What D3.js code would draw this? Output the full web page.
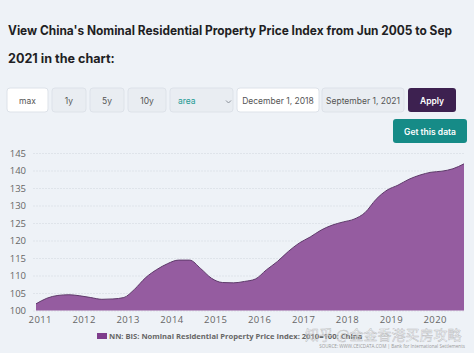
<!DOCTYPE html>
<html>
<head>
<meta charset="utf-8">
<script src="https://cdn.jsdelivr.net/npm/d3@7"></script>
<style>
  body { margin: 0; background: #eef2f7; }
  svg { display: block; font-family: Inter, "Open Sans", sans-serif; }
</style>
</head>
<body>
<svg id="chart" width="474" height="353"></svg>
<script>
// quarterly index, 2010=100
var quarters = ["2010-12-01","2011-03-01","2011-06-01","2011-09-01","2011-12-01","2012-03-01","2012-06-01","2012-09-01",
    "2012-12-01","2013-03-01","2013-06-01","2013-09-01","2013-12-01","2014-03-01","2014-06-01","2014-09-01",
    "2014-12-01","2015-03-01","2015-06-01","2015-09-01","2015-12-01","2016-03-01","2016-06-01","2016-09-01",
    "2016-12-01","2017-03-01","2017-06-01","2017-09-01","2017-12-01","2018-03-01","2018-06-01","2018-09-01",
    "2018-12-01","2019-03-01","2019-06-01","2019-09-01","2019-12-01","2020-03-01","2020-06-01","2020-09-01"];
var values = [101.9, 103.5, 104.3, 104.5, 104.2, 103.7, 103.2, 103.3,
    103.7, 106.1, 109.4, 111.7, 113.4, 114.4, 114.4, 112.0,
    109.2, 108.0, 107.9, 108.3, 109.0, 111.6, 114.0, 116.9,
    119.3, 121.0, 123.0, 124.4, 125.3, 126.1, 128.0, 131.8,
    134.4, 135.8, 137.5, 138.7, 139.5, 139.8, 140.5, 141.9];
var yTicks = [100, 105, 110, 115, 120, 125, 130, 135, 140, 145];
var xTicks = [2011, 2012, 2013, 2014, 2015, 2016, 2017, 2018, 2019, 2020];
var buttons = ["max", "1y", "5y", "10y"];
var dates = ["December 1, 2018", "September 1, 2021"];
var seriesName = "NN: BIS: Nominal Residential Property Price Index: 2010=100: China";

var parse = d3.timeParse("%Y-%m-%d");
var data = quarters.map(function(q, i) { return { date: parse(q), value: values[i] }; });

var svg = d3.select("#chart");

// title
var title = svg.append("g")
    .attr("font-weight", 700)
    .attr("font-size", 12.6)
    .attr("fill", "#1f1f24");
title.append("text").attr("x", 8).attr("y", 35)
    .attr("textLength", 444).attr("lengthAdjust", "spacingAndGlyphs")
    .text("View China's Nominal Residential Property Price Index from Jun 2005 to Sep");
title.append("text").attr("x", 8).attr("y", 63).text("2021 in the chart:");

// control row
var btnX = [7, 52, 90, 128];
var btnW = [41, 34, 34, 38];
buttons.forEach(function(b, i) {
    svg.append("rect")
        .attr("x", btnX[i]).attr("y", 88).attr("width", btnW[i]).attr("height", 24).attr("rx", 3)
        .attr("fill", i === 0 ? "#ffffff" : "#e9edf2")
        .attr("stroke", "#dde2e9");
    svg.append("text")
        .attr("x", btnX[i] + btnW[i] / 2).attr("y", 103.5)
        .attr("text-anchor", "middle").attr("font-size", 8.5).attr("fill", "#555")
        .text(b);
});
svg.append("rect").attr("x", 170).attr("y", 88).attr("width", 63).attr("height", 24).attr("rx", 3)
    .attr("fill", "#e9edf2").attr("stroke", "#dde2e9");
svg.append("text").attr("x", 178).attr("y", 103.5).attr("font-size", 8.5).attr("fill", "#1b9a94").text("area");
svg.append("path").attr("d", "M226,100.5 l2.5,2.5 l2.5,-2.5").attr("fill", "none").attr("stroke", "#8a9099");
var dateX = [237, 322], dateW = [82, 82];
dates.forEach(function(d, i) {
    svg.append("rect").attr("x", dateX[i]).attr("y", 88).attr("width", dateW[i]).attr("height", 24).attr("rx", 3)
        .attr("fill", i === 0 ? "#ffffff" : "#e9edf2").attr("stroke", "#dde2e9");
    svg.append("text").attr("x", dateX[i] + dateW[i] / 2).attr("y", 103.5)
        .attr("text-anchor", "middle").attr("font-size", 8.5).attr("fill", "#555").text(d);
});
svg.append("rect").attr("x", 408).attr("y", 88).attr("width", 48).attr("height", 24).attr("rx", 3).attr("fill", "#3d2150");
svg.append("text").attr("x", 432).attr("y", 103.5).attr("text-anchor", "middle")
    .attr("font-size", 8.5).attr("font-weight", 600).attr("fill", "#fff").text("Apply");
svg.append("rect").attr("x", 393).attr("y", 119).attr("width", 74).attr("height", 24).attr("rx", 3).attr("fill", "#168b87");
svg.append("text").attr("x", 430).attr("y", 134.5).attr("text-anchor", "middle")
    .attr("font-size", 8.5).attr("font-weight", 600).attr("fill", "#fff").text("Get this data");

// chart
var margin = { top: 153, left: 33, right: 10, bottom: 42 };
var width = 474 - margin.left - margin.right,
    height = 353 - margin.top - margin.bottom;
var g = svg.append("g").attr("transform", "translate(" + margin.left + "," + margin.top + ")");

var x = d3.scaleTime()
    .domain([parse("2010-12-01"), parse("2020-09-01")])
    .range([3, 431]);
var y = d3.scaleLinear().domain([100, 145]).range([157.5, 0]);

g.append("g")
    .call(d3.axisLeft(y).tickValues(yTicks).tickSize(-431).tickPadding(7))
    .call(function(a) { a.select(".domain").remove(); })
    .call(function(a) {
        a.selectAll("line").attr("stroke", "#dfe4ea").attr("stroke-dasharray", "2,1");
        a.selectAll("text").attr("fill", "#666").attr("font-size", 9.5).attr("font-family", "Open Sans, sans-serif");
    });

var area = d3.area()
    .curve(d3.curveMonotoneX)
    .x(function(d) { return x(d.date); })
    .y0(y(100))
    .y1(function(d) { return y(d.value); });
var line = d3.line()
    .curve(d3.curveMonotoneX)
    .x(function(d) { return x(d.date); })
    .y(function(d) { return y(d.value); });

g.append("path").datum(data).attr("fill", "#955ca0").attr("d", area);
g.append("path").datum(data).attr("fill", "none").attr("stroke", "#5e3a6a")
    .attr("stroke-width", 1).attr("d", line);

g.append("g")
    .attr("transform", "translate(0," + height + ")")
    .call(d3.axisBottom(x)
        .tickValues(xTicks.map(function(t) { return new Date(t, 0, 1); }))
        .tickFormat(d3.timeFormat("%Y")).tickSize(0).tickPadding(5))
    .call(function(a) { a.select(".domain").remove(); })
    .call(function(a) {
        a.selectAll("text").attr("fill", "#666").attr("font-size", 9.5)
            .attr("font-family", "Open Sans, sans-serif").attr("letter-spacing", 0.4);
    });

// legend
svg.append("rect").attr("x", 97).attr("y", 333).attr("width", 10).attr("height", 6).attr("fill", "#7e3d8c");
svg.append("text").attr("x", 109).attr("y", 339)
    .attr("font-size", 7.6).attr("font-weight", 700).attr("fill", "#666")
    .attr("font-family", "Open Sans, sans-serif").text(seriesName);
svg.append("text").attr("x", 465).attr("y", 348).attr("text-anchor", "end")
    .attr("font-size", 4.6).attr("fill", "#999").attr("font-family", "Open Sans, sans-serif")
    .text("SOURCE: WWW.CEICDATA.COM | Bank for International Settlements");

// watermark
svg.append("text").attr("x", 305).attr("y", 340)
    .attr("font-size", 14).attr("font-family", "Noto Sans CJK SC")
    .attr("fill", "rgba(255,255,255,0.55)").attr("stroke", "rgba(120,120,120,0.45)").attr("stroke-width", 0.5)
    .text("知乎 @金金香港买房攻略");
</script>
</body>
</html>
